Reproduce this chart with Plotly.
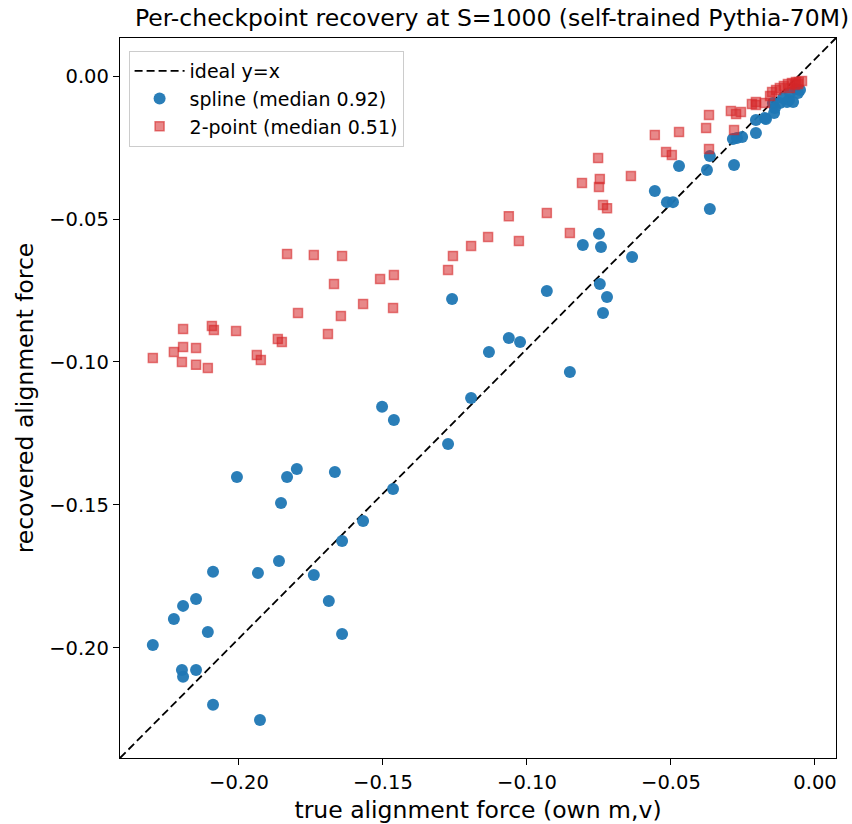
import plotly.graph_objects as go

# spline recovery: (true, recovered)
spline_true = [-0.2299, -0.2226, -0.2194, -0.2149, -0.2198, -0.2194, -0.2149, -0.2108, -0.2090, -0.2090,
               -0.2007, -0.1934, -0.1927, -0.1833, -0.1799, -0.1854, -0.1861, -0.1740, -0.1688, -0.1667,
               -0.1642, -0.1642, -0.1569, -0.1503, -0.1462, -0.1465, -0.1274, -0.1194, -0.1260, -0.1132,
               -0.1063, -0.1024, -0.0851, -0.0931, -0.0806, -0.0750, -0.0743, -0.0635, -0.0747, -0.0722,
               -0.0736, -0.0472, -0.0375, -0.0365, -0.0281, -0.0365, -0.0556, -0.0514, -0.0493, -0.0285,
               -0.0253, -0.0205, -0.0205, -0.0170, -0.0142, -0.0090, -0.0087, -0.0066, -0.0146, -0.0122,
               -0.0097, -0.0111, -0.0076, -0.0059, -0.0052, -0.0271, -0.0174, -0.0139]
spline_rec = [-0.1990, -0.1899, -0.1853, -0.1829, -0.2077, -0.2101, -0.2077, -0.1944, -0.1734, -0.2199,
              -0.1402, -0.1738, -0.2252, -0.1402, -0.1374, -0.1493, -0.1696, -0.1745, -0.1836, -0.1385,
              -0.1626, -0.1951, -0.1556, -0.1157, -0.1203, -0.1444, -0.1287, -0.1126, -0.0780, -0.0965,
              -0.0916, -0.0930, -0.1035, -0.0752, -0.0591, -0.0552, -0.0598, -0.0633, -0.0727, -0.0773,
              -0.0829, -0.0315, -0.0329, -0.0280, -0.0311, -0.0465, -0.0402, -0.0441, -0.0441, -0.0220,
              -0.0213, -0.0199, -0.0154, -0.0150, -0.0129, -0.0084, -0.0059, -0.0045, -0.0094, -0.0094,
              -0.0091, -0.0077, -0.0091, -0.0059, -0.0049, -0.0217, -0.0147, -0.0112]

# 2-point recovery: (true, recovered)
twopt_true = [-0.2299, -0.2226, -0.2194, -0.2194, -0.2149, -0.2198, -0.2149, -0.2108, -0.2094, -0.2087,
              -0.2010, -0.1938, -0.1924, -0.1865, -0.1851, -0.1833, -0.1740, -0.1642, -0.1795, -0.1670,
              -0.1646, -0.1691, -0.1569, -0.1510, -0.1462, -0.1465, -0.1274, -0.1257, -0.1194, -0.1135,
              -0.1063, -0.1028, -0.0931, -0.0851, -0.0809, -0.0753, -0.0747, -0.0750, -0.0736, -0.0722,
              -0.0639, -0.0556, -0.0472, -0.0517, -0.0497, -0.0368, -0.0378, -0.0368, -0.0292, -0.0274,
              -0.0257, -0.0281, -0.0205, -0.0205, -0.0174, -0.0219, -0.0156, -0.0149, -0.0135, -0.0122,
              -0.0108, -0.0094, -0.0080, -0.0066, -0.0056, -0.0045, -0.0087, -0.0069, -0.0059]
twopt_rec = [-0.0986, -0.0965, -0.0948, -0.0885, -0.0951, -0.1000, -0.1010, -0.1021, -0.0874, -0.0888,
             -0.0892, -0.0976, -0.0993, -0.0920, -0.0930, -0.0622, -0.0626, -0.0629, -0.0829, -0.0727,
             -0.0839, -0.0902, -0.0797, -0.0710, -0.0696, -0.0811, -0.0678, -0.0629, -0.0594, -0.0563,
             -0.0490, -0.0577, -0.0479, -0.0549, -0.0374, -0.0287, -0.0360, -0.0388, -0.0451, -0.0462,
             -0.0350, -0.0206, -0.0196, -0.0266, -0.0276, -0.0136, -0.0182, -0.0255, -0.0122, -0.0133,
             -0.0126, -0.0189, -0.0091, -0.0101, -0.0094, -0.0098, -0.0070, -0.0056, -0.0049, -0.0042,
             -0.0035, -0.0028, -0.0024, -0.0021, -0.0021, -0.0017, -0.0042, -0.0031, -0.0028]

x_range = [-0.2413, 0.0073]
y_range = [-0.2385, 0.0133]
tick_vals = [-0.20, -0.15, -0.10, -0.05, 0.00]
tick_text = ["\u22120.20", "\u22120.15", "\u22120.10", "\u22120.05", "0.00"]

FONT = "DejaVu Sans"

fig = go.Figure()
# ideal diagonal drawn corner to corner of the axes (as in the reference)
fig.add_shape(type="line", xref="x domain", yref="y domain", x0=0, y0=0, x1=1, y1=1,
              line=dict(color="black", width=1.8, dash="8px,4px"),
              showlegend=True, name="ideal y=x", legendrank=1, layer="below")
fig.add_trace(go.Scatter(x=spline_true, y=spline_rec, mode="markers", name="spline (median 0.92)",
                         legendrank=2,
                         marker=dict(symbol="circle", size=12, color="rgba(31,119,180,0.95)",
                                     line=dict(width=0))))
fig.add_trace(go.Scatter(x=twopt_true, y=twopt_rec, mode="markers", name="2-point (median 0.51)",
                         legendrank=3,
                         marker=dict(symbol="square", size=9, color="rgba(214,39,40,0.55)",
                                     line=dict(width=1.5, color="rgba(214,39,40,0.6)"))))

axis_common = dict(showgrid=False, zeroline=False, showline=True, linecolor="black", linewidth=1.3,
                   mirror=True, ticks="outside", ticklen=6, tickwidth=1.3, tickcolor="black",
                   automargin=False,
                   tickfont=dict(family=FONT, size=19.5, color="black"),
                   tickvals=tick_vals, ticktext=tick_text)

fig.update_layout(
    width=852, height=824,
    margin=dict(l=120, r=16, t=38, b=66),
    paper_bgcolor="white", plot_bgcolor="white",
    title=dict(text="Per-checkpoint recovery at S=1000 (self-trained Pythia-70M)",
               x=0.5775, xanchor="center", y=0.978, yanchor="middle",
               font=dict(family=FONT, size=23.5, color="black")),
    xaxis=dict(range=x_range, title=dict(text="true alignment force (own m,v)", standoff=13,
                                         font=dict(family=FONT, size=23.5, color="black")),
               **axis_common),
    yaxis=dict(range=y_range, title=dict(text="recovered alignment force", standoff=8,
                                         font=dict(family=FONT, size=23.5, color="black")),
               **axis_common),
    legend=dict(x=0.012, y=0.982, xanchor="left", yanchor="top", itemwidth=50,
                bgcolor="rgba(255,255,255,0.8)", bordercolor="#cccccc", borderwidth=1,
                font=dict(family=FONT, size=19, color="black")),
    showlegend=True,
)

fig.write_html("out.html")
